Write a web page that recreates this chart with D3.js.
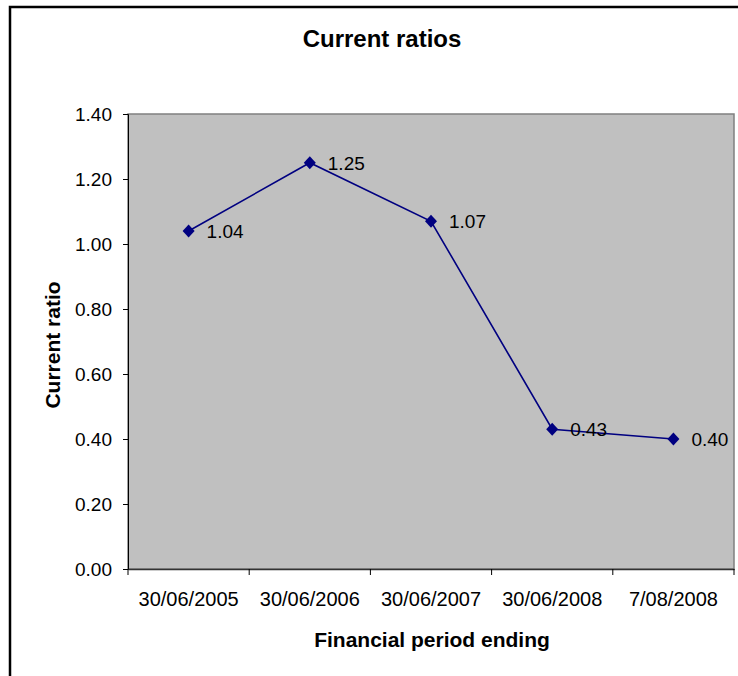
<!DOCTYPE html>
<html>
<head>
<meta charset="utf-8">
<script src="https://cdn.jsdelivr.net/npm/d3@7"></script>
<style>
  body { margin: 0; background: #fff; }
  svg { display: block; font-family: "Liberation Sans", Arial, sans-serif; }
</style>
</head>
<body>
<div id="chart-area"></div>
<script>
let periods = ["30/06/2005", "30/06/2006", "30/06/2007", "30/06/2008", "7/08/2008"];
let ratios = [1.04, 1.25, 1.07, 0.43, 0.40];
let yTicks = [0, 0.2, 0.4, 0.6, 0.8, 1.0, 1.2, 1.4];

let W = 738, H = 676;
let margin = {left: 128, right: 4, top: 114, bottom: 107};
let width = W - margin.left - margin.right;
let height = H - margin.top - margin.bottom;

let svg = d3.select("#chart-area")
	.append("svg")
	.attr("width", W)
	.attr("height", H);

// outer chart border (runs off the right and bottom)
svg.append("rect")
	.attr("x", 10).attr("y", 7)
	.attr("width", W + 10).attr("height", H + 10)
	.attr("fill", "none")
	.attr("stroke", "#000")
	.attr("stroke-width", 2.5);

svg.append("text")
	.text("Current ratios")
	.attr("x", 382).attr("y", 47)
	.attr("text-anchor", "middle")
	.attr("font-size", "24px")
	.attr("font-weight", "bold");

let g = svg.append("g")
	.attr("transform", "translate(" + margin.left + "," + margin.top + ")");

let x = d3.scaleBand()
	.domain(periods)
	.range([0, width]);

let y = d3.scaleLinear()
	.domain([0, 1.4])
	.range([height, 0]);

// plot area
g.append("rect")
	.attr("width", width).attr("height", height)
	.attr("fill", "#c0c0c0")
	.attr("stroke", "#808080")
	.attr("stroke-width", 1.5);

let yAxis = d3.axisLeft(y)
	.tickValues(yTicks)
	.tickFormat(d3.format(".2f"))
	.tickSize(5)
	.tickPadding(11);

g.append("g")
	.attr("class", "y axis")
	.call(yAxis)
	.call(a => a.selectAll("text").attr("font-size", "19px").attr("fill", "#000").attr("font-family", "inherit"))
	.call(a => a.selectAll("line, path").attr("stroke", "#000"));

let xAxis = d3.axisBottom(x)
	.tickSize(0)
	.tickPadding(23);

let xg = g.append("g")
	.attr("class", "x axis")
	.attr("transform", "translate(0," + height + ")")
	.call(xAxis)
	.call(a => a.selectAll("text").attr("font-size", "20px").attr("fill", "#000").attr("font-family", "inherit"))
	.call(a => a.select(".domain").attr("stroke", "#333").attr("stroke-width", 1.5));

// category boundary ticks
xg.selectAll(".bound")
	.data(periods.concat([null]))
	.enter().append("line")
	.attr("x1", (d, i) => i * x.step())
	.attr("x2", (d, i) => i * x.step())
	.attr("y1", 0).attr("y2", 6)
	.attr("stroke", "#000");

g.append("text")
	.text("Financial period ending")
	.attr("x", 432 - margin.left)
	.attr("y", 647 - margin.top)
	.attr("text-anchor", "middle")
	.attr("font-size", "21px")
	.attr("font-weight", "bold");

g.append("text")
	.text("Current ratio")
	.attr("transform", "rotate(-90)")
	.attr("x", -(345 - margin.top))
	.attr("y", 60 - margin.left)
	.attr("text-anchor", "middle")
	.attr("font-size", "21px")
	.attr("font-weight", "bold");

let cx = d => x(d) + x.bandwidth() / 2;

let line = d3.line()
	.x((d, i) => cx(periods[i]))
	.y(d => y(d));

g.append("path")
	.attr("d", line(ratios))
	.attr("fill", "none")
	.attr("stroke", "#000080")
	.attr("stroke-width", 1.6);

g.selectAll(".pt")
	.data(ratios)
	.enter().append("path")
	.attr("class", "pt")
	.attr("d", "M0,-6.5L6,0L0,6.5L-6,0Z")
	.attr("transform", (d, i) => "translate(" + cx(periods[i]) + "," + y(d) + ")")
	.attr("fill", "#000080");

g.selectAll(".lbl")
	.data(ratios)
	.enter().append("text")
	.attr("class", "lbl")
	.text(d => d.toFixed(2))
	.attr("x", (d, i) => cx(periods[i]) + 18)
	.attr("y", d => y(d) + 7)
	.attr("font-size", "19px")
	.attr("fill", "#000");
</script>
</body>
</html>
